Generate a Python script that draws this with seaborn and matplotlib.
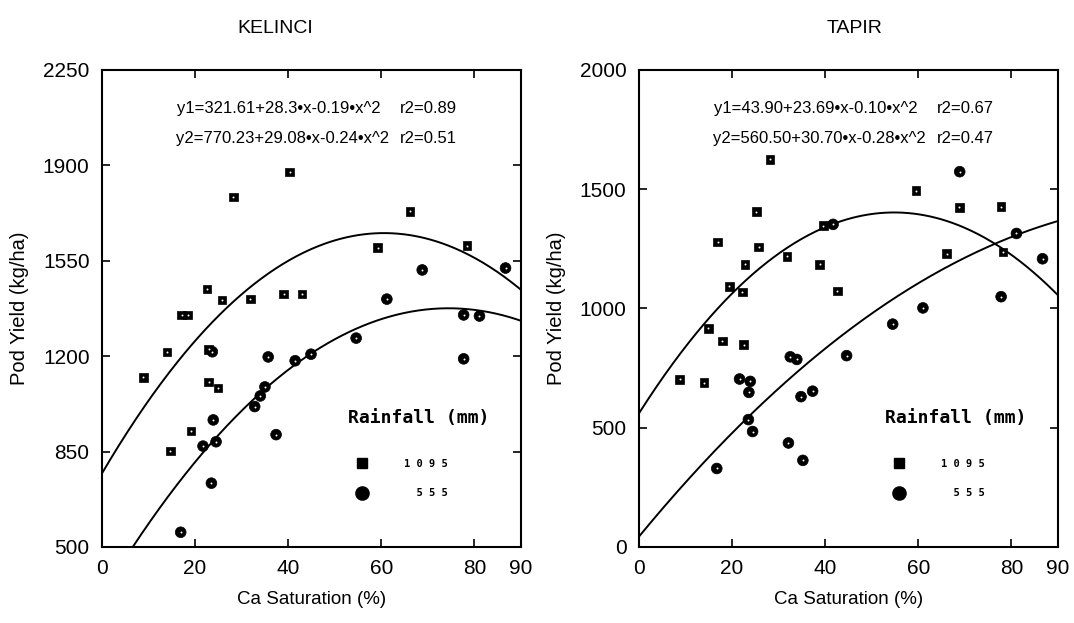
import numpy as np
import pandas as pd
import seaborn as sns
import matplotlib.pyplot as plt
from matplotlib.lines import Line2D

# Datos (Ca saturation %, pod yield kg/ha)
kel_x_1095 = [8.9, 14.0, 14.7, 17.1, 18.4, 19.1, 22.6, 22.9, 22.9, 24.9,
              25.8, 28.2, 31.9, 39.0, 40.3, 43.0, 59.2, 66.2, 78.4]
kel_y_1095 = [1122, 1215, 852, 1351, 1351, 925, 1446, 1225, 1105, 1083,
              1406, 1784, 1410, 1427, 1875, 1427, 1598, 1731, 1605]
kel_x_555 = [16.9, 21.7, 23.5, 23.7, 23.9, 24.5, 32.8, 34.0, 35.0, 35.7,
             37.4, 41.5, 44.9, 54.6, 61.2, 68.8, 77.7, 77.7, 81.1, 86.7]
kel_y_555 = [554, 870, 734, 1216, 966, 886, 1015, 1054, 1087, 1197,
             912, 1183, 1207, 1266, 1409, 1516, 1351, 1190, 1347, 1523]

tap_x_1095 = [8.7, 14.0, 14.9, 16.9, 17.9, 19.4, 22.2, 22.5, 22.8, 25.2,
              25.7, 28.1, 31.8, 38.8, 39.6, 42.6, 59.5, 66.1, 68.8, 77.8, 78.2]
tap_y_1095 = [703, 689, 916, 1278, 864, 1092, 1068, 848, 1185, 1406,
              1257, 1625, 1218, 1184, 1347, 1072, 1494, 1229, 1423, 1426, 1236]
tap_x_555 = [16.7, 21.6, 23.5, 23.6, 23.9, 24.4, 32.1, 32.5, 33.9, 34.8,
             35.2, 37.3, 41.7, 44.6, 54.5, 61.0, 68.9, 77.8, 81.1, 86.7]
tap_y_555 = [329, 704, 534, 648, 694, 484, 436, 797, 786, 630,
             363, 653, 1352, 802, 934, 1002, 1573, 1049, 1314, 1208]

# coeficientes de las ecuaciones impresas en el grafico (c0, c1, c2)
kel_fit_555 = [321.61, 28.3, -0.19]
kel_fit_1095 = [770.23, 29.08, -0.24]
tap_fit_555 = [43.90, 23.69, -0.10]
tap_fit_1095 = [560.50, 30.70, -0.28]

kel_eq = ["y1=321.61+28.3\u2022x-0.19\u2022x^2", "y2=770.23+29.08\u2022x-0.24\u2022x^2"]
kel_r2 = ["r2=0.89", "r2=0.51"]
tap_eq = ["y1=43.90+23.69\u2022x-0.10\u2022x^2", "y2=560.50+30.70\u2022x-0.28\u2022x^2"]
tap_r2 = ["r2=0.67", "r2=0.47"]

x_ticks = [0, 20, 40, 60, 80, 90]
kel_yticks = [500, 850, 1200, 1550, 1900, 2250]
tap_yticks = [0, 500, 1000, 1500, 2000]

sns.set_style("ticks")
plt.rcParams['font.family'] = ['Liberation Sans', 'DejaVu Sans']
plt.rcParams['text.color'] = 'black'
plt.rcParams['axes.labelcolor'] = 'black'
plt.rcParams['xtick.color'] = 'black'
plt.rcParams['ytick.color'] = 'black'

fig = plt.figure(figsize=(10.74, 6.23), dpi=100)
ax1 = fig.add_axes([0.095, 0.122, 0.390, 0.766])
ax2 = fig.add_axes([0.595, 0.122, 0.390, 0.766])


def panel(ax, x1095, y1095, x555, y555, fit555, fit1095, eqs, r2s, yticks):
    df = pd.DataFrame({
        'x': x1095 + x555,
        'y': y1095 + y555,
        'rain': ['1095'] * len(x1095) + ['555'] * len(x555),
    })
    sns.scatterplot(data=df, x='x', y='y', style='rain',
                    markers={'1095': 's', '555': 'o'},
                    size='rain', sizes={'1095': 38, '555': 60},
                    color='black', edgecolor='black', linewidth=0.5,
                    legend=False, ax=ax, zorder=3)
    # puntito blanco en el centro de cada marcador
    ax.scatter(df['x'], df['y'], s=2, color='white', zorder=4, linewidths=0)

    xs = np.linspace(0, 90, 300)
    for c in (fit555, fit1095):
        sns.lineplot(x=xs, y=c[0] + c[1] * xs + c[2] * xs ** 2, ax=ax,
                     color='black', linewidth=1.4, zorder=2)

    ax.set_xlim(0, 90)
    ax.set_ylim(yticks[0], yticks[-1])
    ax.set_xticks(x_ticks)
    ax.set_yticks(yticks)
    ax.tick_params(direction='in', length=6, width=1.2, top=True, right=True,
                   labelsize=15, pad=9)
    for s in ax.spines.values():
        s.set_linewidth(1.5)
        s.set_color('black')
    ax.set_xlabel('Ca Saturation (%)', fontsize=13.5, labelpad=9)
    ax.set_ylabel('Pod Yield (kg/ha)', fontsize=14.5, labelpad=10)

    ax.text(0.18, 0.918, eqs[0], transform=ax.transAxes, fontsize=12, va='center')
    ax.text(0.177, 0.857, eqs[1], transform=ax.transAxes, fontsize=12, va='center')
    ax.text(0.71, 0.918, r2s[0], transform=ax.transAxes, fontsize=12, va='center')
    ax.text(0.71, 0.857, r2s[1], transform=ax.transAxes, fontsize=12, va='center')

    ax.text(0.587, 0.27, 'Rainfall (mm)', transform=ax.transAxes, fontsize=13,
            fontweight='bold', family='DejaVu Sans Mono', va='center')
    handles = [Line2D([], [], marker='s', color='black', markersize=7, linestyle='none'),
               Line2D([], [], marker='o', color='black', markersize=9.5, linestyle='none')]
    ax.legend(handles, ['1 0 9 5', '  5 5 5'], loc='upper left',
              bbox_to_anchor=(0.585, 0.205), frameon=False,
              prop={'family': 'DejaVu Sans Mono', 'weight': 'bold', 'size': 7.5},
              handlelength=1, handletextpad=3.6, labelspacing=1.9)


panel(ax1, kel_x_1095, kel_y_1095, kel_x_555, kel_y_555,
      kel_fit_555, kel_fit_1095, kel_eq, kel_r2, kel_yticks)
panel(ax2, tap_x_1095, tap_y_1095, tap_x_555, tap_y_555,
      tap_fit_555, tap_fit_1095, tap_eq, tap_r2, tap_yticks)

fig.text(0.256, 0.955, 'KELINCI', fontsize=14, ha='center', va='center')
fig.text(0.796, 0.955, 'TAPIR', fontsize=14, ha='center', va='center')

plt.savefig('out.png', dpi=100)
